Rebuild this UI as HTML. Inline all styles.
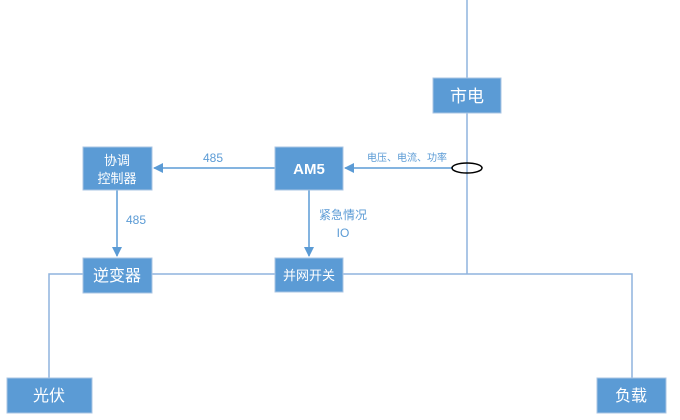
<!DOCTYPE html>
<html><head><meta charset="utf-8"><style>
html,body{margin:0;padding:0;background:#fff;overflow:hidden;width:680px;height:420px;}
svg{display:block;}
svg text{font-family:"Liberation Sans","Noto Sans CJK SC",sans-serif;}
</style></head><body>
<svg width="680" height="420" xmlns="http://www.w3.org/2000/svg">
<defs><marker id="a" markerWidth="10" markerHeight="10" refX="9" refY="5" orient="auto" markerUnits="userSpaceOnUse"><path d="M0,0 L10,5 L0,10 z" fill="#5b9bd5"/></marker></defs>
<g stroke="#8fb4de" stroke-width="1.5" fill="none">
<line x1="467" y1="0" x2="467" y2="78"/>
<line x1="467" y1="113" x2="467" y2="274"/>
<polyline points="83,274 49,274 49,378"/>
<line x1="152" y1="274" x2="275" y2="274"/>
<polyline points="343,274 632,274 632,378"/>
</g>
<g stroke="#5b9bd5" stroke-width="1.5" fill="none">
<line x1="453" y1="168" x2="345" y2="168" marker-end="url(#a)"/>
<line x1="275" y1="168" x2="154" y2="168" marker-end="url(#a)"/>
<line x1="117" y1="190" x2="117" y2="256" marker-end="url(#a)"/>
<line x1="309" y1="190" x2="309" y2="256" marker-end="url(#a)"/>
</g>
<ellipse cx="467" cy="168" rx="15" ry="5" fill="none" stroke="#000" stroke-width="1.5"/>
<g fill="#5b9bd5" stroke="#a9c4e3" stroke-width="1">
<rect x="83" y="147" width="69" height="43"/>
<rect x="83" y="258" width="69" height="35"/>
<rect x="7" y="378" width="85" height="35"/>
<rect x="275" y="147" width="68" height="43"/>
<rect x="275" y="258" width="68" height="34"/>
<rect x="433" y="78" width="68" height="35"/>
<rect x="597" y="378" width="69" height="35"/>
</g>
<g fill="#fff" text-anchor="middle">
<text x="117" y="165" font-size="13">协调</text>
<text x="117" y="183" font-size="13">控制器</text>
<text x="117" y="281" font-size="16">逆变器</text>
<text x="49" y="401" font-size="16">光伏</text>
<text x="309" y="174" font-size="15" font-weight="bold">AM5</text>
<text x="309" y="280" font-size="13">并网开关</text>
<text x="467" y="102" font-size="17">市电</text>
<text x="631" y="401" font-size="16">负载</text>
</g>
<g fill="#5b9bd5" text-anchor="middle">
<text x="407" y="161" font-size="10">电压、电流、功率</text>
<text x="213" y="162" font-size="12">485</text>
<text x="136" y="224" font-size="12">485</text>
<text x="343" y="219" font-size="12">紧急情况</text>
<text x="343" y="237" font-size="12">IO</text>
</g>
</svg>
</body></html>
